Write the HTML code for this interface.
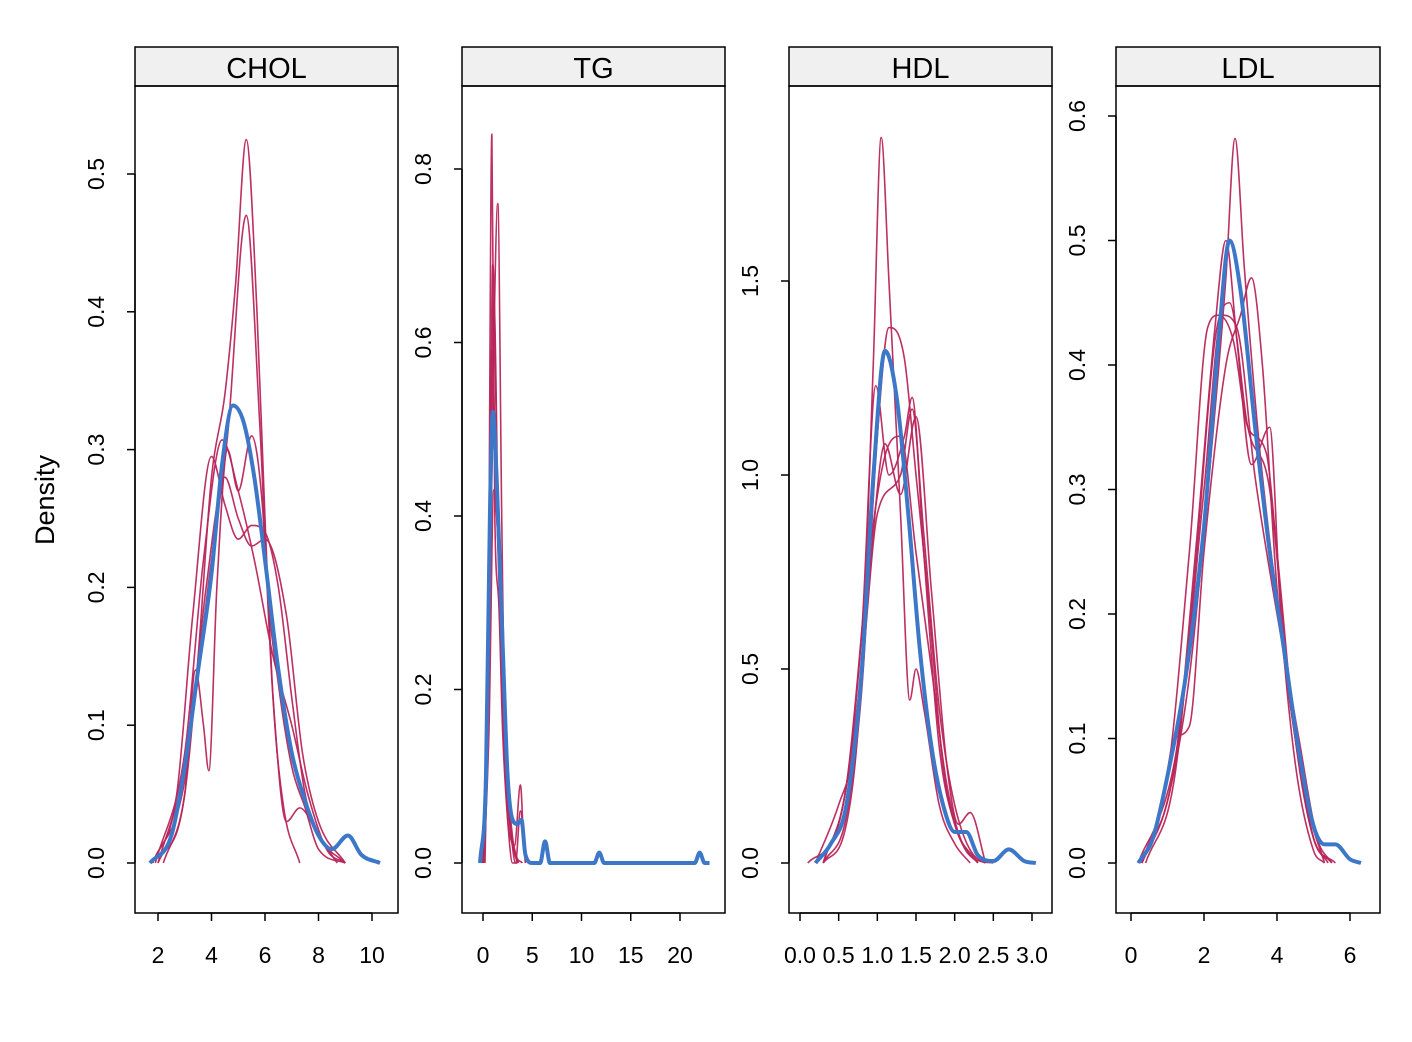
<!DOCTYPE html>
<html><head><meta charset="utf-8"><style>body{margin:0;background:#fff}svg{display:block}text{font-family:"Liberation Sans",Arial,sans-serif}</style></head>
<body>
<svg id="chart" width="1412" height="1042" viewBox="0 0 1412 1042" xmlns="http://www.w3.org/2000/svg">
<text x="0" y="0" transform="translate(54,500) rotate(-90)" text-anchor="middle" font-size="27">Density</text>
</svg>
<script>
const panelNames = ["CHOL","TG","HDL","LDL"];
const cholBlue = [[1.7,0],[2.5,0.02],[3,0.07],[3.5,0.14],[4,0.21],[4.4,0.29],[4.8,0.332],[5.2,0.32],[5.6,0.28],[6,0.22],[6.5,0.14],[7,0.08],[7.5,0.045],[8,0.02],[8.5,0.01],[9.1,0.02],[9.6,0.006],[10.3,0]];
const cholRed = [
 [[2.2,0],[3,0.05],[3.5,0.15],[4,0.28],[4.5,0.34],[4.9,0.42],[5.3,0.525],[5.7,0.4],[6,0.25],[6.3,0.12],[6.7,0.04],[7.3,0]],
 [[2,0],[3,0.07],[4,0.22],[4.6,0.31],[5.3,0.47],[5.8,0.32],[6.1,0.2],[6.5,0.13],[7,0.07],[7.5,0.04],[8,0.01],[9,0]],
 [[2,0],[3,0.05],[3.4,0.14],[3.7,0.1],[3.9,0.067],[4.2,0.2],[4.6,0.3],[5,0.27],[5.5,0.31],[5.9,0.26],[6.3,0.12],[6.8,0.03],[7.3,0.04],[8,0.02],[8.7,0]],
 [[1.8,0],[2.7,0.05],[3.3,0.18],[4,0.295],[4.5,0.26],[5,0.235],[5.5,0.245],[6,0.24],[6.5,0.2],[7,0.12],[7.5,0.05],[8,0.02],[9,0]],
 [[1.9,0],[3,0.08],[3.7,0.22],[4.4,0.307],[5,0.27],[5.6,0.22],[6.3,0.15],[7,0.1],[7.6,0.05],[8.3,0.01],[9,0]],
 [[1.8,0],[3,0.06],[3.8,0.2],[4.5,0.28],[5,0.25],[5.5,0.23],[6,0.235],[6.8,0.18],[7.4,0.08],[8,0.03],[9,0]]
];
const tgBlue = [[-0.3,0],[0.3,0.1],[0.7,0.4],[1,0.52],[1.4,0.44],[2,0.25],[2.5,0.1],[3,0.05],[3.5,0.045],[3.9,0.05],[4.3,0.01],[5,0],[5.8,0],[6.3,0.025],[6.8,0],[11.3,0],[11.8,0.012],[12.3,0],[21.5,0],[22,0.012],[22.5,0],[23,0]];
const tgRed = [
 [[0,0],[0.5,0.2],[0.9,0.84],[1.2,0.4],[1.6,0.3],[2,0.15],[2.5,0.05],[3,0],[3.5,0]],
 [[0.2,0],[0.7,0.3],[1.1,0.6],[1.5,0.76],[1.9,0.4],[2.3,0.1],[3,0.02],[3.5,0]],
 [[0,0],[0.6,0.3],[1,0.69],[1.5,0.4],[2,0.2],[2.6,0.06],[3.2,0.02],[3.8,0.09],[4.2,0.01],[4.6,0]],
 [[0,0],[0.6,0.25],[1.1,0.65],[1.6,0.35],[2.2,0.12],[2.8,0.04],[3.3,0],[3.8,0.06],[4.3,0]],
 [[0,0],[0.5,0.2],[0.9,0.59],[1.3,0.45],[2,0.18],[2.7,0.05],[3.3,0.01],[4,0]],
 [[0.1,0],[0.6,0.15],[1.1,0.43],[1.6,0.35],[2.2,0.15],[3,0.03],[3.6,0]]
];
const hdlBlue = [[0.2,0],[0.4,0.05],[0.6,0.15],[0.8,0.5],[0.95,1.0],[1.1,1.32],[1.25,1.2],[1.4,0.9],[1.55,0.55],[1.7,0.3],[1.85,0.15],[2.0,0.08],[2.15,0.08],[2.3,0.02],[2.5,0.005],[2.7,0.035],[2.9,0.005],[3.05,0]];
const hdlRed = [
 [[0.3,0],[0.6,0.1],[0.8,0.5],[0.95,1.3],[1.05,1.87],[1.15,1.5],[1.3,0.9],[1.42,0.42],[1.5,0.5],[1.6,0.4],[1.8,0.15],[2,0.05],[2.2,0]],
 [[0.3,0],[0.6,0.12],[0.8,0.45],[1.0,1.1],[1.15,1.38],[1.35,1.3],[1.5,1.0],[1.65,0.7],[1.85,0.25],[2,0.1],[2.2,0.02],[2.4,0]],
 [[0.3,0],[0.6,0.2],[0.8,0.6],[0.98,1.23],[1.15,1.0],[1.35,1.1],[1.45,1.2],[1.6,0.8],[1.8,0.3],[2,0.1],[2.3,0]],
 [[0.2,0],[0.5,0.15],[0.7,0.3],[0.9,0.75],[1.1,1.08],[1.3,0.95],[1.5,1.15],[1.7,0.7],[1.9,0.25],[2.05,0.1],[2.2,0.13],[2.4,0]],
 [[0.1,0],[0.5,0.1],[0.8,0.5],[1.0,0.9],[1.3,1.0],[1.45,1.17],[1.6,0.85],[1.8,0.4],[2,0.15],[2.3,0.01],[2.5,0]],
 [[0.3,0],[0.6,0.2],[0.9,0.8],[1.1,1.05],[1.3,1.1],[1.5,0.8],[1.7,0.5],[1.9,0.2],[2.1,0.05],[2.3,0]]
];
const ldlBlue = [[0.2,0],[0.6,0.02],[1,0.07],[1.5,0.15],[2,0.27],[2.4,0.42],[2.7,0.5],[3.0,0.46],[3.4,0.35],[3.8,0.25],[4.2,0.17],[4.6,0.09],[5,0.03],[5.3,0.015],[5.6,0.015],[6,0.003],[6.3,0]];
const ldlRed = [
 [[0.3,0],[1,0.05],[1.6,0.15],[2.2,0.33],[2.6,0.47],[2.85,0.582],[3.1,0.48],[3.5,0.34],[4,0.21],[4.5,0.1],[5,0.02],[5.5,0]],
 [[0.2,0],[1,0.07],[1.6,0.25],[2.1,0.43],[2.4,0.44],[2.8,0.42],[3.2,0.35],[3.7,0.33],[4,0.25],[4.5,0.1],[5,0.02],[5.6,0]],
 [[0.3,0],[1.2,0.08],[1.8,0.26],[2.3,0.43],[2.6,0.5],[2.9,0.42],[3.3,0.32],[3.8,0.35],[4.1,0.2],[4.5,0.08],[5,0.01],[5.3,0]],
 [[0.3,0],[0.8,0.04],[1.2,0.1],[1.6,0.11],[2,0.25],[2.6,0.4],[3.0,0.44],[3.3,0.47],[3.6,0.4],[4,0.22],[4.5,0.1],[5,0.02],[5.4,0]],
 [[0.4,0],[1.2,0.07],[1.8,0.25],[2.3,0.42],[2.7,0.45],[3.2,0.35],[3.8,0.3],[4.3,0.15],[4.8,0.05],[5.3,0]],
 [[0.3,0],[1.3,0.1],[2,0.3],[2.5,0.44],[2.9,0.43],[3.4,0.31],[4,0.2],[4.6,0.1],[5.1,0.02],[5.5,0]]
];
const cholXTicks=[2,4,6,8,10], cholYTicks=[0,0.1,0.2,0.3,0.4,0.5];
const tgXTicks=[0,5,10,15,20], tgYTicks=[0,0.2,0.4,0.6,0.8];
const hdlXTicks=[0,0.5,1,1.5,2,2.5,3], hdlYTicks=[0,0.5,1,1.5];
const ldlXTicks=[0,2,4,6], ldlYTicks=[0,0.1,0.2,0.3,0.4,0.5,0.6];

const NS="http://www.w3.org/2000/svg", svg=document.getElementById('chart');
function mk(t,a,p){const e=document.createElementNS(NS,t);for(const k in a)e.setAttribute(k,a[k]);(p||svg).appendChild(e);return e;}
const panels=[
 {name:"CHOL",x0:135,x1:398,blue:cholBlue,red:cholRed,xt:cholXTicks,yt:cholYTicks,xa:[2,158,10,372],ya:[0,863,0.5,174],fx:v=>String(v),fy:v=>v.toFixed(1)},
 {name:"TG",x0:462,x1:725,blue:tgBlue,red:tgRed,xt:tgXTicks,yt:tgYTicks,xa:[0,483,20,680],ya:[0,863,0.8,169],fx:v=>String(v),fy:v=>v.toFixed(1)},
 {name:"HDL",x0:789,x1:1052,blue:hdlBlue,red:hdlRed,xt:hdlXTicks,yt:hdlYTicks,xa:[0,800,3,1032],ya:[0,863,1.5,281],fx:v=>v.toFixed(1),fy:v=>v.toFixed(1)},
 {name:"LDL",x0:1116,x1:1380,blue:ldlBlue,red:ldlRed,xt:ldlXTicks,yt:ldlYTicks,xa:[0,1131,6,1350],ya:[0,863,0.6,116],fx:v=>String(v),fy:v=>v.toFixed(1)}
];
// monotone cubic (Fritsch-Carlson) path through pixel points with increasing x
function smooth(p){const n=p.length,d=[],m=[];
 for(let i=0;i<n-1;i++)d.push((p[i+1][1]-p[i][1])/(p[i+1][0]-p[i][0]));
 m[0]=d[0];m[n-1]=d[n-2];
 for(let i=1;i<n-1;i++){m[i]=(d[i-1]*d[i]<=0)?0:(d[i-1]+d[i])/2;}
 for(let i=0;i<n-1;i++){if(d[i]===0){m[i]=0;m[i+1]=0;continue;}const a=m[i]/d[i],b=m[i+1]/d[i],s=a*a+b*b;if(s>9){const t=3/Math.sqrt(s);m[i]=t*a*d[i];m[i+1]=t*b*d[i];}}
 let s=`M${p[0][0]},${p[0][1]}`;
 for(let i=0;i<n-1;i++){const h=(p[i+1][0]-p[i][0])/3;s+=` C${p[i][0]+h},${p[i][1]+m[i]*h} ${p[i+1][0]-h},${p[i+1][1]-m[i+1]*h} ${p[i+1][0]},${p[i+1][1]}`;}
 return s;}
panels.forEach((P,i)=>{
 const sx=v=>P.xa[1]+(v-P.xa[0])*(P.xa[3]-P.xa[1])/(P.xa[2]-P.xa[0]);
 const sy=v=>P.ya[1]+(v-P.ya[0])*(P.ya[3]-P.ya[1])/(P.ya[2]-P.ya[0]);
 const g=mk('g',{});
 
 
 const cp=mk('clipPath',{id:'c'+i},g);mk('rect',{x:P.x0,y:86,width:P.x1-P.x0,height:827},cp);
 const strip=mk('rect',{x:P.x0,y:47,width:P.x1-P.x0,height:39,fill:'#f0f0f0',stroke:'#000','stroke-width':1.5},g);
 
 
 const st=mk('text',{x:(P.x0+P.x1)/2,y:78,'text-anchor':'middle','font-size':29},g);st.textContent=P.name;
 
 
 const cg=mk('g',{'clip-path':`url(#c${i})`},g);
 P.red.forEach((s,j)=>{const p=mk('path',{d:smooth(s.map(q=>[sx(q[0]),sy(q[1])])),fill:'none',stroke:'#b8255a','stroke-width':1.6,'stroke-opacity':0.95},cg);
  
  });
 const b=mk('path',{d:smooth(P.blue.map(q=>[sx(q[0]),sy(q[1])])),fill:'none',stroke:'#3d78c8','stroke-width':4,'stroke-linejoin':'round'},cg);
 
 
 const box=mk('rect',{x:P.x0,y:86,width:P.x1-P.x0,height:827,fill:'none',stroke:'#000','stroke-width':1.5},g);
 
 
 const yx=P.x0;
 mk('line',{x1:yx,x2:yx,y1:sy(P.yt[0]),y2:sy(P.yt[P.yt.length-1]),stroke:'#000','stroke-width':1.5},g);
 P.yt.forEach(v=>{const y=sy(v);mk('line',{x1:yx-8,x2:yx,y1:y,y2:y,stroke:'#000','stroke-width':1.5},g);
  const t=mk('text',{x:0,y:0,transform:`translate(${yx-31},${y}) rotate(-90)`,'text-anchor':'middle','font-size':23},g);t.textContent=P.fy(v);
  
  });
 mk('line',{x1:sx(P.xt[0]),x2:sx(P.xt[P.xt.length-1]),y1:913,y2:913,stroke:'#000','stroke-width':1.5},g);
 P.xt.forEach(v=>{const x=sx(v);mk('line',{x1:x,x2:x,y1:913,y2:921,stroke:'#000','stroke-width':1.5},g);
  const t=mk('text',{x:x,y:963,'text-anchor':'middle','font-size':23},g);t.textContent=P.fx(v);
  
  });
});
</script>
</body></html>
